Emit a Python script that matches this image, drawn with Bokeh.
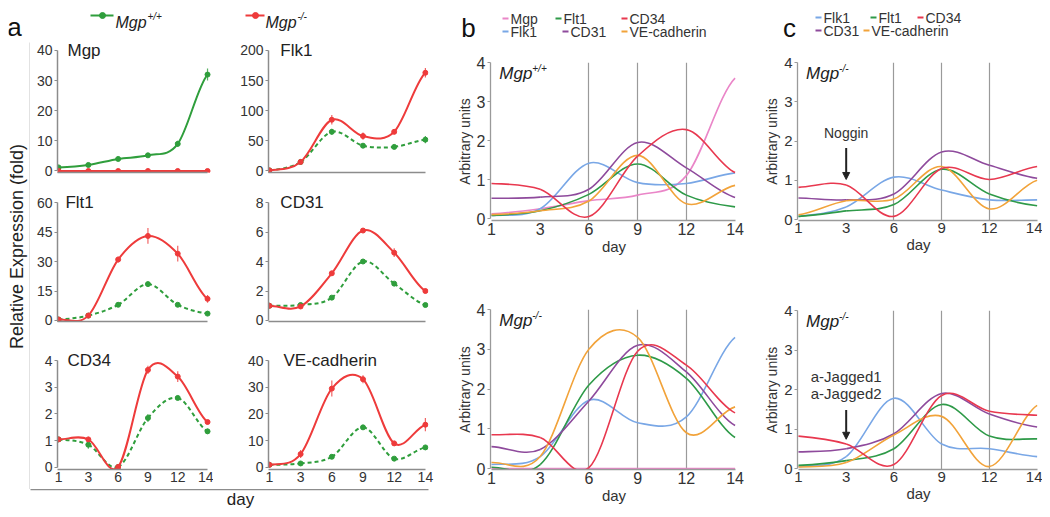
import numpy as np
from bokeh.plotting import figure
from bokeh.layouts import row, column
from bokeh.models import Range1d, FixedTicker, Label, Arrow, NormalHead, ColumnDataSource, Spacer
from bokeh.core.properties import value
from bokeh.embed import file_html
from bokeh.resources import INLINE

# ------------------------------------------------------------------ data
days = ["1", "3", "6", "9", "12", "14"]

# panel a : relative expression (fold), Mgp+/+ (wt) and Mgp-/- (ko)
a_genes = ["Mgp", "Flk1", "Flt1", "CD31", "CD34", "VE-cadherin"]
a_ymax = [40, 200, 60, 8, 4, 40]
a_yticks = [[0, 10, 20, 30, 40], [0, 50, 100, 150, 200], [0, 15, 30, 45, 60],
            [0, 2, 4, 6, 8], [0, 1, 2, 3, 4], [0, 10, 20, 30, 40]]

mgp_wt = [1.2, 2.0, 4.0, 5.2, 9.0, 32.0]
mgp_wt_err = [0.2, 0.3, 0.4, 0.6, 1.0, 2.0]
mgp_ko = [0, 0, 0, 0, 0, 0]
mgp_ko_err = [0, 0, 0, 0, 0, 0]
flk1_wt = [1, 15, 65, 42, 40, 52]
flk1_wt_err = [0.5, 2, 5, 3, 2, 6]
flk1_ko = [1, 15, 85, 58, 65, 163]
flk1_ko_err = [0.5, 2, 8, 6, 4, 8]
flt1_wt = [0.5, 2.5, 8, 18.5, 8, 3.5]
flt1_wt_err = [0.2, 0.4, 1.0, 1.2, 0.8, 0.8]
flt1_ko = [0.5, 2.5, 31, 43, 34, 11]
flt1_ko_err = [0.2, 0.4, 1.5, 4.0, 4.0, 2.0]
cd31_wt = [1.0, 1.05, 1.55, 4.0, 2.5, 1.05]
cd31_wt_err = [0.08, 0.08, 0.1, 0.12, 0.1, 0.1]
cd31_ko = [1.0, 0.95, 3.2, 6.1, 4.6, 2.0]
cd31_ko_err = [0.08, 0.08, 0.15, 0.12, 0.3, 0.15]
cd34_wt = [1.05, 0.85, 0.02, 1.85, 2.6, 1.35]
cd34_wt_err = [0.08, 0.15, 0.05, 0.15, 0.08, 0.1]
cd34_ko = [1.05, 1.05, 0.02, 3.65, 3.4, 1.7]
cd34_ko_err = [0.08, 0.1, 0.05, 0.15, 0.2, 0.08]
ve_wt = [1.0, 1.5, 4.0, 15.0, 3.3, 7.5]
ve_wt_err = [0.3, 0.5, 0.5, 0.8, 0.5, 0.6]
ve_ko = [1.0, 5.0, 29.5, 33.0, 9.0, 16.0]
ve_ko_err = [0.3, 1.5, 3.0, 1.5, 1.0, 2.5]

# panel b : arbitrary units
b_wt_mgp = [0.12, 0.25, 0.46, 0.6, 1.1, 3.6]
b_wt_flk1 = [0.08, 0.25, 1.42, 0.92, 0.9, 1.17]
b_wt_flt1 = [0.08, 0.2, 0.62, 1.4, 0.6, 0.3]
b_wt_cd34 = [0.9, 0.75, 0.05, 1.6, 2.28, 1.18]
b_wt_cd31 = [0.52, 0.55, 0.75, 1.95, 1.3, 0.54]
b_wt_ve = [0.1, 0.2, 0.45, 1.62, 0.38, 0.85]
b_ko_mgp = [0, 0, 0, 0, 0, 0]
b_ko_flk1 = [0.1, 0.3, 1.72, 1.15, 1.3, 3.3]
b_ko_flt1 = [0.03, 0.1, 2.1, 2.85, 2.27, 0.78]
b_ko_cd34 = [0.85, 0.78, 0.02, 2.95, 2.6, 1.4]
b_ko_cd31 = [0.55, 0.48, 1.7, 3.1, 2.43, 1.08]
b_ko_ve = [0.15, 0.3, 3.0, 3.3, 0.9, 1.55]

# panel c : Mgp-/- with Noggin / with a-Jagged1 + a-Jagged2
c_nog_flk1 = [0.08, 0.32, 1.08, 0.75, 0.5, 0.5]
c_nog_flt1 = [0.08, 0.22, 0.38, 1.28, 0.65, 0.35]
c_nog_cd34 = [0.82, 0.88, 0.08, 1.3, 1.02, 1.35]
c_nog_cd31 = [0.55, 0.5, 0.65, 1.72, 1.38, 1.05]
c_nog_ve = [0.12, 0.48, 0.52, 1.35, 0.27, 1.0]
c_jag_flk1 = [0.05, 0.3, 1.78, 0.62, 0.5, 0.3]
c_jag_flt1 = [0.08, 0.2, 0.5, 1.62, 0.82, 0.75]
c_jag_cd34 = [0.82, 0.62, 0.1, 1.85, 1.45, 1.35]
c_jag_cd31 = [0.42, 0.5, 0.88, 1.9, 1.38, 1.05]
c_jag_ve = [0.04, 0.15, 0.85, 1.32, 0.05, 1.6]

bc_ticks = [0, 1, 2, 3, 4]

# ------------------------------------------------------------------ styles
FONT = "Liberation Sans"
TXT = "#333333"
AX = "#8c8c8c"
GREEN = "#2f9e3c"
RED = "#ee3b3b"
GENE_COLORS = {"Mgp": "#ea86c8", "Flk1": "#79a7e6", "Flt1": "#2e9a48",
               "CD34": "#e8384f", "CD31": "#8e4a9c", "VE-cadherin": "#f2a33a"}


def smooth(vals):
    """Bezier control points (Catmull-Rom style smoothing) for a smoothed line."""
    y = np.asarray(vals, float)
    x = np.arange(len(y), dtype=float)
    yp = np.concatenate([[y[0]], y, [y[-1]]])
    xp = np.concatenate([[x[0] - 1], x, [x[-1] + 1]])
    i = np.arange(len(y) - 1)
    return ColumnDataSource(dict(
        x0=x[:-1], y0=y[:-1], x1=x[1:], y1=y[1:],
        cx0=x[:-1] + (xp[i + 2] - xp[i]) / 6, cy0=y[:-1] + (yp[i + 2] - yp[i]) / 6,
        cx1=x[1:] - (xp[i + 3] - xp[i + 1]) / 6, cy1=y[1:] - (yp[i + 3] - yp[i + 1]) / 6))


def base(width, height, bl, br, bt, bb, xr, yr, xloc="below", yloc="left"):
    p = figure(width=width, height=height, x_range=xr, y_range=yr,
               toolbar_location=None, output_backend="svg",
               x_axis_location=xloc, y_axis_location=yloc,
               min_border_left=bl, min_border_right=br,
               min_border_top=bt, min_border_bottom=bb)
    p.frame_align = False
    p.grid.visible = False
    p.outline_line_color = None
    p.background_fill_color = "white"
    p.border_fill_color = "white"
    return p


def style_axis(ax, color=AX, lw=1.5, size="14px"):
    ax.axis_line_color = color
    ax.axis_line_width = lw
    ax.major_tick_line_color = color
    ax.minor_tick_line_color = None
    ax.major_tick_in = 0
    ax.major_label_text_font = FONT
    ax.major_label_text_font_size = size
    ax.major_label_text_color = TXT
    ax.axis_label_text_font = FONT
    ax.axis_label_text_font_style = "normal"
    ax.axis_label_text_color = TXT


def txt(p, x, y, s, size, color=TXT, style="normal", align="left", baseline="middle", angle=0):
    p.text(x=[x], y=[y], text=[s], text_font=value(FONT), text_font_size=value(size),
           text_color=color, text_font_style=style, text_align=align,
           text_baseline=baseline, angle=angle)


# ------------------------------------------------------------------ panel a
a_series = [(mgp_wt, mgp_wt_err, mgp_ko, mgp_ko_err),
            (flk1_wt, flk1_wt_err, flk1_ko, flk1_ko_err),
            (flt1_wt, flt1_wt_err, flt1_ko, flt1_ko_err),
            (cd31_wt, cd31_wt_err, cd31_ko, cd31_ko_err),
            (cd34_wt, cd34_wt_err, cd34_ko, cd34_ko_err),
            (ve_wt, ve_wt_err, ve_ko, ve_ko_err)]

# (fig height, border top, border bottom, pad below 0, pad above max)
row_geom = [(152, 0, 22, 0.0125, 0.066), (158, 0, 31, 0.0085, 0.068), (137, 0, 20, 0.019, 0.075)]
col_geom = [(183, 27, 0, (-0.035, 5.2), [0.3, 0.23, 0.3]),
            (227, 55, 12, (-0.03, 5.1), [0.35, 0.35, 0.45])]


def a_fig(k):
    r, c = divmod(k, 2)
    h, bt, bb, pad_lo, pad_hi = row_geom[r]
    w, bl, br, xr, tx = col_geom[c]
    ymax = a_ymax[k]
    p = base(w, h, bl, br, bt, bb, Range1d(*xr), Range1d(-pad_lo * ymax, ymax * (1 + pad_hi)))
    style_axis(p.yaxis[0])
    p.yaxis.ticker = FixedTicker(ticks=a_yticks[k])
    p.yaxis.bounds = (0, ymax)
    p.yaxis.major_tick_out = 3
    p.yaxis.major_label_standoff = 2
    style_axis(p.xaxis[0])
    p.xaxis.bounds = (xr[0], 5)
    p.xaxis.major_tick_out = 0
    if r == 2:
        p.xaxis.ticker = FixedTicker(ticks=list(range(len(days))))
        p.xaxis.major_label_overrides = {i: d for i, d in enumerate(days)}
        p.xaxis.major_label_standoff = 2
    else:
        p.xaxis.ticker = FixedTicker(ticks=[])
    wt, wt_err, ko, ko_err = a_series[k]
    idx = list(range(len(days)))
    for vals, err, col, dash in ((wt, wt_err, GREEN, "solid" if k == 0 else "4 3"),
                                 (ko, ko_err, RED, "solid")):
        lo = [v - e for v, e in zip(vals, err)]
        hi = [v + e for v, e in zip(vals, err)]
        p.segment(x0=idx, y0=lo, x1=idx, y1=hi, line_color=col, line_width=1.2, line_alpha=0.8)
        p.bezier(x0="x0", y0="y0", x1="x1", y1="y1", cx0="cx0", cy0="cy0", cx1="cx1", cy1="cy1",
                 source=smooth(vals), line_color=col, line_width=2, line_dash=dash)
        p.scatter(idx, vals, size=5, marker="circle", fill_color=col, line_color=col)
    p.add_layout(Label(x=tx[r], y=ymax, text=a_genes[k], text_font=FONT, text_font_size="17px",
                       text_color="#222222", text_baseline="middle"))
    return p


a_figs = [a_fig(k) for k in range(6)]
a_grid = column(row(a_figs[0], a_figs[1]), row(a_figs[2], a_figs[3]), row(a_figs[4], a_figs[5]))

# header a
ha = base(432, 34, 0, 0, 0, 0, Range1d(0, 432), Range1d(34, 0), xloc=None, yloc=None)
txt(ha, 6, 18, "a", "26px", color="#111111", align="center", baseline="alphabetic")
for (kx0, kx1, mx, tx0, col, sup) in ((82, 105, 94, 107, GREEN, "+/+"), (237, 256, 247, 257, RED, "-/-")):
    ha.segment(x0=[kx0], y0=[7], x1=[kx1], y1=[7], line_color=col, line_width=2)
    ha.scatter([mx], [7], size=6, marker="circle", fill_color=col, line_color=col)
    txt(ha, tx0, 14, "Mgp", "16px", color="#222222", style="italic", baseline="alphabetic")
    txt(ha, tx0 + 32, 8, sup, "10px", color="#222222", style="italic", baseline="alphabetic")

# L-shaped frame of panel a
lf = base(22, 447, 0, 0, 0, 0, Range1d(0, 21), Range1d(447, 0), xloc=None, yloc="right")
style_axis(lf.yaxis[0])
lf.yaxis.ticker = FixedTicker(ticks=[])
lf.yaxis.major_tick_out = 0
txt(lf, 8, 204, "Relative Expression (fold)", "18px", color="#222222", align="center", angle=np.pi / 2)

bf = base(432, 19, 22, 12, 0, 0, Range1d(0, 398), Range1d(19, 0), xloc="above", yloc=None)
style_axis(bf.xaxis[0])
bf.xaxis.ticker = FixedTicker(ticks=[])
bf.xaxis.major_tick_out = 0
txt(bf, 210, 10, "day", "17px", color="#222222", align="center")

col_a = column(ha, row(lf, a_grid), bf)


# ------------------------------------------------------------------ panels b, c
def bc_fig(width, height, bl, br, bt, bb, ystart, series, sup, tick_size="16px"):
    p = base(width, height, bl, br, bt, bb, Range1d(-0.02, 5.05), Range1d(ystart, 4.0))
    style_axis(p.yaxis[0], color="#9a9a9a", lw=1.3, size=tick_size)
    p.yaxis.ticker = FixedTicker(ticks=bc_ticks)
    p.yaxis.bounds = (0, 4)
    p.yaxis.major_tick_out = 3
    p.yaxis.major_label_standoff = 2
    p.yaxis.axis_label = "Arbitrary units"
    p.yaxis.axis_label_text_font_size = "14px"
    p.yaxis.axis_label_standoff = 1
    style_axis(p.xaxis[0], color="#9a9a9a", lw=1.3, size=tick_size)
    p.xaxis.ticker = FixedTicker(ticks=list(range(len(days))))
    p.xaxis.major_label_overrides = {i: d for i, d in enumerate(days)}
    p.xaxis.major_tick_out = 0
    p.xaxis.major_label_standoff = 2
    p.xaxis.axis_label = "day"
    p.xaxis.axis_label_text_font_size = "15px"
    p.xaxis.axis_label_standoff = 0
    p.xaxis.bounds = (0, 5)
    p.xgrid.visible = True
    p.xgrid.ticker = FixedTicker(ticks=[2, 3, 4])
    p.xgrid.grid_line_color = "#9a9a9a"
    p.xgrid.grid_line_width = 1.2
    for name, vals in series:
        p.bezier(x0="x0", y0="y0", x1="x1", y1="y1", cx0="cx0", cy0="cy0", cx1="cx1", cy1="cy1",
                 source=smooth(vals), line_color=GENE_COLORS[name], line_width=1.6)
    p.add_layout(Label(x=0.16, y=3.72, text="Mgp", text_font=FONT, text_font_size="17px",
                       text_font_style="italic", text_color="#222222", text_baseline="middle"))
    p.add_layout(Label(x=0.16, y=3.72, x_offset=33, y_offset=5, text=sup, text_font=FONT,
                       text_font_size="10px", text_font_style="italic", text_color="#222222",
                       text_baseline="middle"))
    return p


b_top = bc_fig(321, 218, 50, 24, 20, 40, -0.05,
               [("Mgp", b_wt_mgp), ("Flk1", b_wt_flk1), ("Flt1", b_wt_flt1),
                ("CD31", b_wt_cd31), ("VE-cadherin", b_wt_ve), ("CD34", b_wt_cd34)], "+/+")
b_bot = bc_fig(321, 249, 50, 24, 49, 40, -0.025,
               [("Mgp", b_ko_mgp), ("Flk1", b_ko_flk1), ("Flt1", b_ko_flt1),
                ("CD31", b_ko_cd31), ("VE-cadherin", b_ko_ve), ("CD34", b_ko_cd34)], "-/-")
c_top = bc_fig(281, 218, 32, 3, 20, 40, -0.025,
               [("Flk1", c_nog_flk1), ("Flt1", c_nog_flt1), ("CD31", c_nog_cd31),
                ("VE-cadherin", c_nog_ve), ("CD34", c_nog_cd34)], "-/-", tick_size="15px")
c_bot = bc_fig(281, 249, 32, 3, 50, 40, -0.025,
               [("Flk1", c_jag_flk1), ("Flt1", c_jag_flt1), ("CD31", c_jag_cd31),
                ("VE-cadherin", c_jag_ve), ("CD34", c_jag_cd34)], "-/-", tick_size="15px")

# treatment annotations (day 3 = category index 1)
c_top.add_layout(Label(x=1, y=2.2, text="Noggin", text_font=FONT, text_font_size="14px",
                       text_color=TXT, text_align="center", text_baseline="middle"))
c_top.add_layout(Arrow(end=NormalHead(size=7, fill_color="#222222", line_color="#222222"),
                       x_start=1, y_start=1.82, x_end=1, y_end=1.02,
                       line_color="#222222", line_width=2))
c_bot.add_layout(Label(x=1, y=2.32, text="a-Jagged1", text_font=FONT, text_font_size="15px",
                       text_color=TXT, text_align="center", text_baseline="middle"))
c_bot.add_layout(Label(x=1, y=1.9, text="a-Jagged2", text_font=FONT, text_font_size="15px",
                       text_color=TXT, text_align="center", text_baseline="middle"))
c_bot.add_layout(Arrow(end=NormalHead(size=7, fill_color="#222222", line_color="#222222"),
                       x_start=1, y_start=1.48, x_end=1, y_end=0.74,
                       line_color="#222222", line_width=2))

# legend headers
hb = base(321, 34, 0, 0, 0, 0, Range1d(0, 321), Range1d(34, 0), xloc=None, yloc=None)
txt(hb, 28, 19, "b", "26px", color="#111111", align="center", baseline="alphabetic")
b_legend = [("Mgp", 62, 10), ("Flt1", 115, 10), ("CD34", 181, 10),
            ("Flk1", 62, 23), ("CD31", 122, 23), ("VE-cadherin", 181, 23)]
for name, kx, ky in b_legend:
    hb.segment(x0=[kx], y0=[ky], x1=[kx + 6], y1=[ky], line_color=GENE_COLORS[name], line_width=2)
    txt(hb, kx + 8, ky, name, "14px")

hc = base(281, 34, 0, 0, 0, 0, Range1d(0, 281), Range1d(34, 0), xloc=None, yloc=None)
txt(hc, 28, 19, "c", "26px", color="#111111", align="center", baseline="alphabetic")
c_legend = [("Flk1", 54, 9), ("Flt1", 109, 9), ("CD34", 156, 9),
            ("CD31", 54, 22), ("VE-cadherin", 102, 22)]
for name, kx, ky in c_legend:
    hc.segment(x0=[kx], y0=[ky], x1=[kx + 6], y1=[ky], line_color=GENE_COLORS[name], line_width=2)
    txt(hc, kx + 8, ky, name, "14px")

col_b = column(hb, b_top, b_bot)
col_c = column(hc, c_top, c_bot)

layout = column(Spacer(width=1042, height=8),
                row(Spacer(width=8, height=501), col_a, col_b, col_c))

open("out.html", "w").write(file_html(layout, INLINE))
